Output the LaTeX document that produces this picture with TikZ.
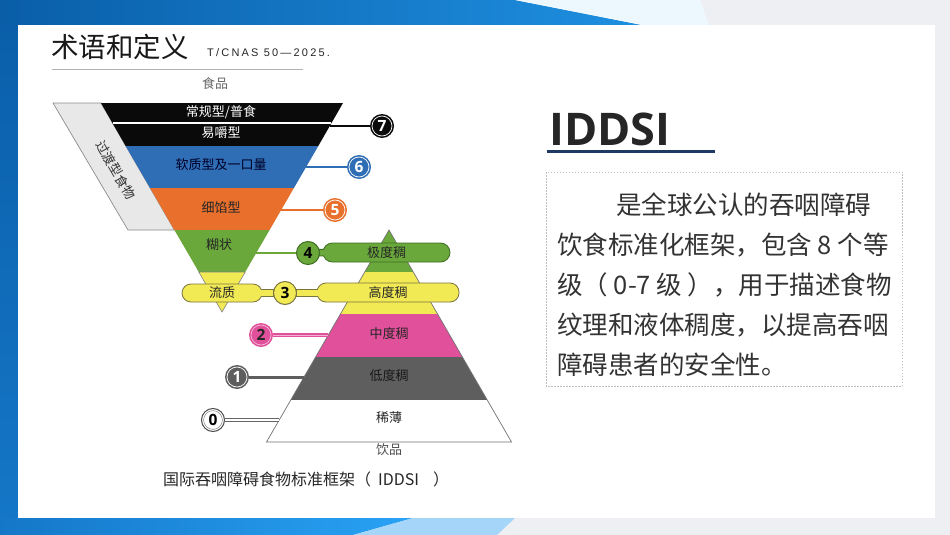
\documentclass[tikz,border=0pt]{standalone}
\usepackage{fontspec}
\setmainfont{Noto Sans CJK SC}
\newfontfamily\osans{Open Sans}
\newfontfamily\lsans[LetterSpace=20]{Liberation Sans}
\definecolor{fblack}{HTML}{0A0A0A}
\definecolor{fblue}{HTML}{2F6DB5}
\definecolor{forange}{HTML}{E8702C}
\definecolor{fgreen}{HTML}{6AA83C}
\definecolor{fgreend}{HTML}{3F6E22}
\definecolor{fyellow}{HTML}{F2EA55}
\definecolor{fyellowd}{HTML}{7A7540}
\definecolor{fpink}{HTML}{E1509A}
\definecolor{fdgray}{HTML}{5E5E5E}
\definecolor{fband}{HTML}{E8E8E8}
\definecolor{txtc}{HTML}{333333}
\definecolor{navyc}{HTML}{1F3864}
\definecolor{bgray}{HTML}{EDEFF2}
\definecolor{bluea}{HTML}{0A5EA8}
\definecolor{blueb}{HTML}{1E8FE0}
\definecolor{bluec}{HTML}{1577C8}
\definecolor{blued}{HTML}{29A2F5}
\definecolor{lblue}{HTML}{A6D5FA}
\begin{document}
\begin{tikzpicture}[x=1pt,y=-1pt,
  lbl/.style={inner sep=0, font=\fontsize{13}{14}\selectfont},
  numc/.style={circle, minimum size=24pt, inner sep=0, font=\osans\bfseries\fontsize{15.5}{16}\selectfont},
  ringw/.style={white, line width=0.7pt},
  rtext/.style={anchor=west, inner sep=0, text=txtc, font=\fontsize{25.5}{27}\selectfont}
]
\useasboundingbox (0,0) rectangle (950,535);
% background
\fill[bgray] (0,0) rectangle (950,535);
\shade[top color=bluea, bottom color=bluec] (0,0) rectangle (18,535);
\shade[left color=bluea, right color=blueb] (0,0) -- (515,0) -- (642,25) -- (0,25) -- cycle;
\fill[white!80!lblue] (515,0) -- (700,0) -- (709,25) -- (642,25) -- cycle;
\shade[left color=bluec, right color=blued] (0,518) -- (413,518) -- (353,535) -- (0,535) -- cycle;
\fill[lblue] (413,518) -- (515,518) -- (497,535) -- (353,535) -- cycle;
\fill[white] (18,25) rectangle (935,518);

% title
\node[anchor=west, inner sep=0, text=black!90] (title) at (51,47) {\fontsize{27.5}{29}\selectfont 术语和定义};
\node[anchor=west, inner sep=0, text=black!85] (std) at (207,53) {\lsans\fontsize{11}{12}\selectfont T/CNAS 50—2025.};
\draw[black!30, line width=1pt] (52,70) -- (303,70);

% funnel: transition band
\filldraw[fill=fband, draw=black!45, line width=0.7pt] (53,103) -- (101,103) -- (174.4,230) -- (128,230) -- cycle;
\node[lbl, rotate=-60, text=black!80] (trans) at (116,170) {过渡型食物};
% funnel bands
\fill[fblack] (101,103) -- (343,103) -- (318.3,146) -- (125.7,146) -- cycle;
\draw[white, line width=1.1pt] (113,123) -- (331,123);
\fill[fblue] (125.7,146) -- (318.3,146) -- (293.9,188) -- (150.1,188) -- cycle;
\fill[forange] (150.1,188) -- (293.9,188) -- (269.6,230) -- (174.4,230) -- cycle;
\fill[fgreen] (174.4,230) -- (269.6,230) -- (245.2,272) -- (198.8,272) -- cycle;
\filldraw[fill=fyellow, draw=black!50, line width=0.6pt] (198.8,272) -- (245.2,272) -- (222,312) -- cycle;

% pyramid
\fill[fgreen] (389,230) -- (413.3,272) -- (364.7,272) -- cycle;
\fill[fyellow] (364.7,272) -- (413.3,272) -- (437.6,314) -- (340.4,314) -- cycle;
\fill[fpink] (340.4,314) -- (437.6,314) -- (462.4,357) -- (315.6,357) -- cycle;
\fill[fdgray] (315.6,357) -- (462.4,357) -- (487.3,400) -- (290.7,400) -- cycle;
\fill[white] (290.7,400) -- (487.3,400) -- (511.5,442) -- (266.5,442) -- cycle;
\draw[black!55, line width=0.7pt] (389,230) -- (511.5,442) -- (266.5,442) -- cycle;

% edge points for connectors
\coordinate (e7) at (330,126);
\coordinate (e6) at (306,167);
\coordinate (e5) at (281,210);
\coordinate (e4) at (256,253);
\coordinate (e2) at (328,335);
\coordinate (e1) at (304,377);
\coordinate (e0) at (279,420);

% number circles
\node[numc, fill=fblack, text=white] (n7) at (382,126) {7};
\node[numc, fill=fblue, text=white] (n6) at (359,167) {6};
\node[numc, fill=forange, text=white] (n5) at (335,210) {5};
\node[numc, fill=fpink, text=black!85] (n2) at (261,335) {2};
\node[numc, fill=fdgray, text=white] (n1) at (237,377) {1};
\node[numc, fill=white, draw=black!70, line width=1pt, minimum size=23pt, text=black] (n0) at (213,420) {0};
\draw[ringw] (n7) circle (10pt);
\draw[ringw] (n6) circle (10pt);
\draw[ringw] (n5) circle (10pt);
\draw[white!60!fpink, line width=0.7pt] (n2) circle (10pt);
\draw[ringw] (n1) circle (10pt);
\draw[black!50, line width=0.5pt] (n0) circle (9.4pt);

% connectors
\draw[fblack, line width=2.2pt] (e7) -- (n7);
\draw[fblue, line width=2.2pt] (e6) -- (n6);
\draw[forange, line width=2.2pt] (e5) -- (n5);
\draw[fpink, line width=3.4pt] (e2) -- (n2);
\draw[white!55!fpink, line width=1pt] (e2) -- (n2);
\draw[fdgray, line width=3pt] (e1) -- (n1);
\draw[black!60, line width=3.2pt] (e0) -- (n0);
\draw[white, line width=1.4pt] (e0) -- (n0);

% bars
\draw[fgreen, line width=2.4pt] (e4) -- (297,253);
\draw[fgreend, line width=7.5pt] (308,253) -- (330,252.5);
\draw[fyellowd, line width=7.5pt] (250,293) -- (325,293);
\filldraw[fill=fgreen, draw=fgreend, line width=0.8pt, rounded corners=9.5pt] (323,243) rectangle (450,262) node[midway, lbl, text=black!85] (g4) {极度稠};
\filldraw[fill=fyellow, draw=fyellowd, line width=0.8pt, rounded corners=9pt] (182,284) rectangle (262,302) node[midway, lbl, text=black!85] (y3a) {流质};
\filldraw[fill=fyellow, draw=fyellowd, line width=0.8pt, rounded corners=9pt] (317,283) rectangle (459,302) node[midway, lbl, text=black!85] (y3b) {高度稠};
\node[numc, fill=fgreen, draw=fgreend, line width=1pt, minimum size=23pt, text=black] (n4) at (308,253) {4};
\node[numc, fill=fyellow, draw=fyellowd, line width=1pt, minimum size=23pt, text=black] (n3) at (285,293) {3};
\draw[fgreen, line width=5.5pt] (n4.east) -- (324,252.5);
\draw[fyellow, line width=5.5pt] (261,293) -- (n3.west);
\draw[fyellow, line width=5.5pt] (n3.east) -- (318,293);

% funnel labels
\node[lbl, text=black!60] (food) at (215,84) {食品};
\node[lbl, text=white] (l7a) at (221,112) {常规型/普食};
\node[lbl, text=white] (l7b) at (221,133) {易嚼型};
\node[lbl, text=black!85!blue] (l6) at (221,165) {软质型及一口量};
\node[lbl, text=black!85] (l5) at (221,208) {细馅型};
\node[lbl, text=black!85] (l4) at (219,245) {糊状};
% pyramid labels
\node[lbl, text=black!85] (p2) at (389,334) {中度稠};
\node[lbl, text=black!90] (p1) at (389,376) {低度稠};
\node[lbl, text=black!85] (p0) at (389,418) {稀薄};
\node[lbl, text=black!70] (drink) at (389,450) {饮品};

% caption
\node[anchor=west, inner sep=0, text=black!85] (cap) at (163,479) {\fontsize{16}{18}\selectfont 国际吞咽障碍食物标准框架（\hspace{7pt}IDDSI\hspace{14pt}）};

% right side
\node[anchor=base west, inner sep=0, text=black!85] (iddsi) at (549,145) {\osans\bfseries\fontsize{45}{50}\selectfont IDDSI};
\draw[navyc, line width=2.5pt] (547,151.5) -- (715,151.5);
\draw[black!25, line width=0.6pt, dash pattern=on 1.5pt off 1.5pt] (546,172) rectangle (902,386);
\node[rtext] (r1) at (616,205) {是全球公认的吞咽障碍};
\node[rtext] (r2) at (557,245) {饮食标准化框架，包含 8 个等};
\node[rtext] (r3) at (557,285) {级（ 0-7 级 ），用于描述食物};
\node[rtext] (r4) at (557,325) {纹理和液体稠度，以提高吞咽};
\node[rtext] (r5) at (557,365) {障碍患者的安全性。};
\end{tikzpicture}
\end{document}
